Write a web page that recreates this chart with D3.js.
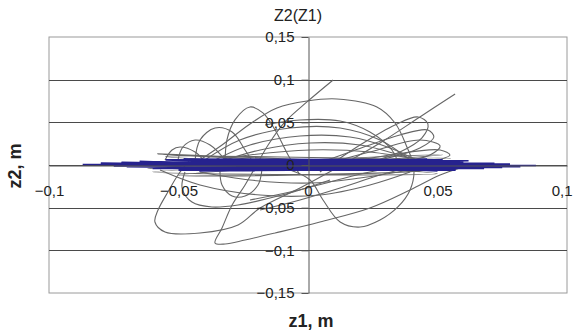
<!DOCTYPE html>
<html>
<head>
<meta charset="utf-8">
<script src="https://cdn.jsdelivr.net/npm/d3@7"></script>
<style>
  body { margin: 0; background: #fff; }
  #chart { width: 573px; height: 335px; }
  text { font-family: Arial, "Liberation Sans", sans-serif; fill: #222; }
</style>
</head>
<body>
<div id="chart"></div>
<script>
// tick values on both axes
const xTicks = [-0.1, -0.05, 0, 0.05, 0.1];
const yTicks = [-0.15, -0.1, -0.05, 0, 0.05, 0.1, 0.15];

// gray trajectory pieces, [z1, z2] in metres
const arcBowl = [[-0.0417,0.0059],[-0.0332,0.0234],[-0.0224,0.0481],[-0.0120,0.0668],[-0.0004,0.0750],[0.0112,0.0774],[0.0266,0.0680],[0.0336,0.0492],[0.0382,0.0211],[0.0409,-0.0035],[0.0394,-0.0293],[0.0347,-0.0492],[0.0278,-0.0645],[0.0201,-0.0727],[0.0124,-0.0668],[0.0058,-0.0410],[0.0008,-0.0176],[-0.0069,-0.0059]];
const diagA = [[0.0568,0.0832],[0.0432,0.0563],[0.0278,0.0258],[0.0124,-0.0012],[-0.0031,-0.0270],[-0.0185,-0.0504],[-0.0270,-0.0703],[-0.0417,-0.0797],[-0.0552,-0.0785],[-0.0591,-0.0668],[-0.0579,-0.0528],[-0.0541,-0.0317],[-0.0502,-0.0117],[-0.0456,0.0059]];
const diagB = [[0.0097,0.0996],[-0.0004,0.0739],[-0.0089,0.0504],[-0.0154,0.0234],[-0.0205,-0.0035],[-0.0243,-0.0234],[-0.0293,-0.0469],[-0.0332,-0.0739],[-0.0359,-0.0914],[-0.0320,-0.0926],[-0.0243,-0.0879],[-0.0127,-0.0797],[0.0046,-0.0668],[0.0239,-0.0504],[0.0394,-0.0293],[0.0510,-0.0117],[0.0587,-0.0035]];
const mid05 = [[-0.0166,0.0469],[-0.0031,0.0528],[0.0124,0.0516],[0.0239,0.0387],[0.0324,0.0176],[0.0355,-0.0035]];
const loopUL1 = [[-0.0320,0],[-0.0313,0.0293],[-0.0282,0.0528],[-0.0224,0.0680],[-0.0174,0.0610],[-0.0127,0.0410],[-0.0077,0.0117],[-0.0031,-0.0117]];
const loopUL2 = [[-0.0436,0.0059],[-0.0417,0.0293],[-0.0359,0.0434],[-0.0293,0.0387],[-0.0243,0.0176],[-0.0193,-0.0059]];
const loopUL3 = [[-0.0502,0.0059],[-0.0483,0.0211],[-0.0436,0.0293],[-0.0378,0.0234],[-0.0320,0.0059]];
const loopUL4 = [[-0.0552,0.0059],[-0.0525,0.0176],[-0.0494,0.0211],[-0.0436,0.0152],[-0.0398,0.0035]];
const loopUR1 = [[0.0046,-0.0082],[0.0201,0.0234],[0.0336,0.0469],[0.0425,0.0563],[0.0463,0.0481],[0.0440,0.0317],[0.0355,0.0152],[0.0201,0]];
const loopUR2 = [[-0.0031,-0.0059],[0.0162,0.0152],[0.0355,0.0352],[0.0463,0.0410],[0.0486,0.0328],[0.0432,0.0199],[0.0278,0.0059],[0.0124,-0.0035]];
const loopUR3 = [[0.0008,-0.0035],[0.0239,0.0152],[0.0432,0.0293],[0.0510,0.0223],[0.0471,0.0117],[0.0317,0.0023]];
const loopUR4 = [[0.0085,-0.0012],[0.0317,0.0117],[0.0510,0.0176],[0.0548,0.0117],[0.0471,0.0035],[0.0317,-0.0023]];
const dome1 = [[-0.0398,0.0059],[-0.0263,0.0293],[-0.0069,0.0434],[0.0124,0.0434],[0.0278,0.0293],[0.0394,0.0059]];
const dome2 = [[-0.0359,0.0059],[-0.0224,0.0234],[-0.0031,0.0340],[0.0162,0.0328],[0.0317,0.0199],[0.0432,0.0035]];
const dome3 = [[-0.0340,0.0035],[-0.0185,0.0176],[0.0008,0.0258],[0.0201,0.0234],[0.0355,0.0117],[0.0471,0.0012]];
const dome4 = [[-0.0417,0.0023],[-0.0224,0.0117],[0.0008,0.0176],[0.0239,0.0152],[0.0432,0.0059]];
const bowl1 = [[-0.0571,-0.0059],[-0.0417,-0.0234],[-0.0185,-0.0352],[0.0046,-0.0352],[0.0239,-0.0234],[0.0394,-0.0082]];
const bowl2 = [[-0.0417,-0.0082],[-0.0224,-0.0176],[0.0008,-0.0211],[0.0201,-0.0152],[0.0432,-0.0035]];
const lowR1 = [[-0.0185,-0.0528],[-0.0031,-0.0410],[0.0124,-0.0270],[0.0278,-0.0117],[0.0432,0]];
const lowR2 = [[-0.0224,-0.0410],[-0.0069,-0.0317],[0.0085,-0.0199],[0.0239,-0.0082],[0.0394,-0.0012]];
const lowL1 = [[-0.0475,-0.0082],[-0.0486,-0.0270],[-0.0448,-0.0434],[-0.0371,-0.0492],[-0.0270,-0.0469],[-0.0147,-0.0387],[-0.0031,-0.0293],[0.0085,-0.0176]];
const lowL2 = [[-0.0340,-0.0059],[-0.0332,-0.0234],[-0.0293,-0.0363],[-0.0243,-0.0363],[-0.0193,-0.0234],[-0.0178,-0.0059]];
const flatGray = [[-0.065,0.001],[0.055,0.008],[-0.060,-0.008],[0.050,-0.010],[-0.055,0.010],[0.058,0.004],[-0.062,-0.004],[0.052,0.012],[-0.050,-0.012],[0.045,-0.006],[-0.058,0.013],[0.062,-0.002]];

// blue trajectory, oscillating mostly along z1
const blueZ = [[-0.087,0.0005],[0.088,-0.0005],[-0.080,0.002],[0.082,-0.002],[-0.075,-0.001],[0.078,0.001],[-0.072,0.003],[0.075,-0.003],[-0.065,0.004],[0.068,-0.004],[-0.060,-0.004],[0.062,0.005],[-0.055,0.006],[0.057,-0.006],[-0.050,-0.006],[0.052,0.006],[-0.048,0.007],[0.050,-0.007],[-0.045,0.006],[0.047,-0.005],[-0.042,-0.007],[0.046,0.007],[-0.040,-0.006],[0.043,0.006],[-0.036,0.005],[0.038,-0.006],[-0.070,-0.002],[0.072,0.002],[-0.062,0.003],[0.065,-0.003],[-0.058,-0.004],[0.060,0.004],[-0.030,0.004],[0.032,-0.004]];

const grayParts = [arcBowl, diagA, diagB, mid05, loopUL1, loopUL2, loopUL3, loopUL4,
    loopUR1, loopUR2, loopUR3, loopUR4, dome1, dome2, dome3, dome4,
    bowl1, bowl2, lowR1, lowR2, lowL1, lowL2, flatGray];

const width = 573, height = 335;
const plot = {left: 49, right: 567, top: 37, bottom: 293};

const svg = d3.select('#chart').append('svg')
    .attr('width', width)
    .attr('height', height);

const x = d3.scaleLinear().domain([-0.1, 0.1]).range([plot.left, plot.right]);
const y = d3.scaleLinear().domain([-0.15, 0.15]).range([plot.bottom, plot.top]);
const fmt = d => d3.format('')(d).replace('.', ',');

// plot area border
svg.append('rect')
    .attr('x', plot.left)
    .attr('y', plot.top)
    .attr('width', plot.right - plot.left)
    .attr('height', plot.bottom - plot.top)
    .attr('fill', 'none')
    .attr('stroke', '#9a9a9a');

// horizontal gridlines
svg.append('g').selectAll('line')
    .data(yTicks.filter(d => Math.abs(d) < 0.149))
    .enter()
    .append('line')
    .attr('x1', plot.left)
    .attr('x2', plot.right)
    .attr('y1', d => Math.round(y(d)) + 0.5)
    .attr('y2', d => Math.round(y(d)) + 0.5)
    .attr('stroke', '#4a4a4a');

// curves
const line = d3.line()
    .x(d => x(d[0]))
    .y(d => y(d[1]));

svg.append('g').selectAll('path')
    .data(grayParts)
    .enter()
    .append('path')
    .attr('d', line.curve(d3.curveCatmullRom.alpha(0.5)))
    .attr('fill', 'none')
    .attr('stroke', '#666')
    .attr('stroke-width', 1.1);

svg.append('path')
    .datum(blueZ)
    .attr('d', d3.line().x(d => x(d[0])).y(d => y(d[1])))
    .attr('fill', 'none')
    .attr('stroke', '#26228e')
    .attr('stroke-width', 1.6);

// axes through the origin
const yAxis = d3.axisLeft(y)
    .tickValues(yTicks)
    .tickFormat(fmt)
    .tickSize(7)
    .tickSizeOuter(0)
    .tickPadding(7);

const xAxis = d3.axisBottom(x)
    .tickValues(xTicks)
    .tickFormat(fmt)
    .tickSize(0)
    .tickSizeOuter(0)
    .tickPadding(20);

svg.append('g')
    .attr('transform', `translate(${Math.round(x(0)) + 0.5},0)`)
    .call(yAxis)
    .call(g => g.selectAll('path, line').attr('stroke', '#555'))
    .call(g => g.selectAll('text').attr('font-size', 15).attr('fill', '#222'));

svg.append('g')
    .attr('transform', `translate(0,${Math.round(y(0)) + 0.5})`)
    .call(xAxis)
    .call(g => g.selectAll('path, line').attr('stroke', '#555'))
    .call(g => g.selectAll('text').attr('font-size', 15).attr('fill', '#222'))
    // last label sits at the right edge, keep it inside the page
    .call(g => g.selectAll('.tick').filter(d => d === 0.1).select('text')
        .attr('text-anchor', 'end').attr('x', 5));

// titles
svg.append('text')
    .attr('x', 298)
    .attr('y', 21)
    .attr('text-anchor', 'middle')
    .attr('font-size', 16)
    .text('Z2(Z1)');

svg.append('text')
    .attr('x', 311)
    .attr('y', 327)
    .attr('text-anchor', 'middle')
    .attr('font-size', 18)
    .attr('font-weight', 'bold')
    .text('z1, m');

svg.append('text')
    .attr('transform', 'translate(21,166) rotate(-90)')
    .attr('text-anchor', 'middle')
    .attr('font-size', 18)
    .attr('font-weight', 'bold')
    .text('z2, m');
</script>
</body>
</html>
